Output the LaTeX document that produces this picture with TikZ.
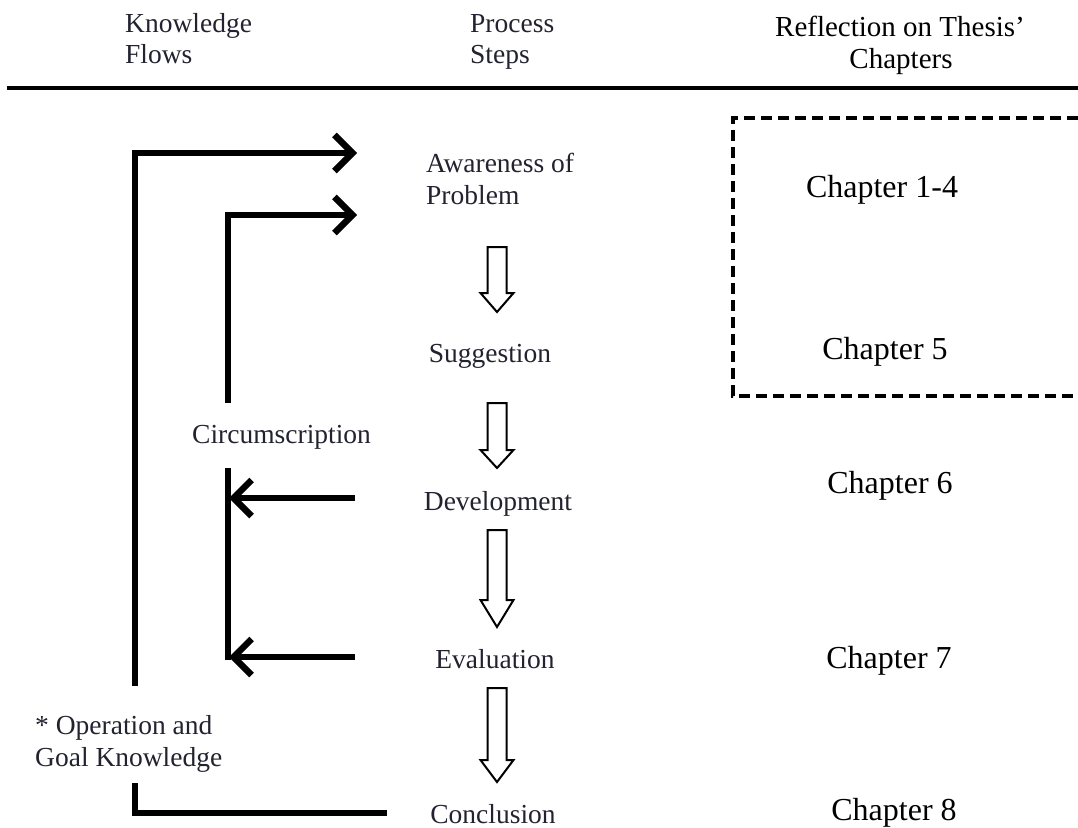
\documentclass[tikz,border=0pt]{standalone}
\usepackage{fontspec}
\setmainfont{Liberation Serif}
\usetikzlibrary{arrows.meta}
\definecolor{procink}{RGB}{34,34,48}

% hollow block arrow pointing down: top of shaft, start of head, tip
\newcommand{\stepdown}[4]{%
  \draw[hollow] (487.5,#2) -- (506.5,#2) -- (506.5,#3) -- (513.5,#3)
    -- (497,#4) coordinate (#1) -- (480.5,#3) -- (487.5,#3) -- cycle;}

\begin{document}
\begin{tikzpicture}[x=1pt,y=-1pt,
  proc/.style={inner sep=0pt, text=procink, font=\fontsize{27.5}{33}\selectfont},
  chap/.style={inner sep=0pt, font=\fontsize{32}{38}\selectfont},
  headtext/.style={inner sep=0pt, font=\fontsize{29}{35}\selectfont},
  flow/.style={line width=6.5pt, line join=miter},
  flowarrow/.style={flow, -{Straight Barb[length=18pt,width=36pt]}},
  hollow/.style={draw, line width=2pt, fill=white, line join=miter},
  frame/.style={line width=4pt, dash pattern=on 11pt off 6pt}]

\useasboundingbox (0,0) rectangle (1078,827);

% column headings
\node[proc, anchor=base west] (kf1) at (125,32) {Knowledge};
\node[proc, anchor=base west] (kf2) at (125,63) {Flows};
\node[proc, anchor=base west] (ps1) at (470,32) {Process};
\node[proc, anchor=base west] (ps2) at (470,63) {Steps};
\node[headtext, anchor=base] (rt1) at (900,36) {Reflection on Thesis’};
\node[headtext, anchor=base] (rt2) at (901,68) {Chapters};
\coordinate (ruleL) at (7,88);
\coordinate (ruleR) at (1078,88);
\draw[line width=3.5pt] (ruleL) -- (ruleR);

% process steps
\node[proc, anchor=base west] (aw1) at (426,172) {Awareness of};
\node[proc, anchor=base west] (aw2) at (426,204) {Problem};
\node[proc, anchor=base] (sug) at (490,362) {Suggestion};
\node[proc, anchor=base] (dev) at (498,510) {Development};
\node[proc, anchor=base] (eva) at (495,668) {Evaluation};
\node[proc, anchor=base] (con) at (493,823) {Conclusion};

\stepdown{s1}{247}{293}{312}
\stepdown{s2}{403}{450}{468}
\stepdown{s3}{530}{600}{627}
\stepdown{s4}{688}{760}{782}

% knowledge flow labels
\node[proc, anchor=base west] (circ) at (192,443) {Circumscription};
\node[proc, anchor=base west] (op1) at (35,734) {* Operation and};
\node[proc, anchor=base west] (op2) at (35,766) {Goal Knowledge};

% knowledge flow connectors
\coordinate (outerStart) at (135,686);
\coordinate (awIn1) at (357,153);
\coordinate (innerStart) at (228,403);
\coordinate (awIn2) at (357,215);
\coordinate (innerTop) at (228,468);
\coordinate (innerBot) at (228,660);
\coordinate (devOut) at (355,498);
\coordinate (devIn) at (229,498);
\coordinate (evaOut) at (355,657);
\coordinate (evaIn) at (229,657);
\coordinate (conStart) at (135,783);
\coordinate (conEnd) at (387,813);

\draw[flowarrow] (outerStart) |- (awIn1);
\draw[flowarrow] (innerStart) |- (awIn2);
\draw[flow] (innerTop) -- (innerBot);
\draw[flowarrow] (devOut) -- (devIn);
\draw[flowarrow] (evaOut) -- (evaIn);
\draw[flow] (conStart) |- (conEnd);

% thesis chapters
\node[chap, anchor=base] (c14) at (882,197) {Chapter 1-4};
\node[chap, anchor=base] (c5) at (885,359) {Chapter 5};
\node[chap, anchor=base] (c6) at (890,493) {Chapter 6};
\node[chap, anchor=base] (c7) at (889,668) {Chapter 7};
\node[chap, anchor=base] (c8) at (894,820) {Chapter 8};

\begin{scope}
  \clip (0,0) rectangle (1078,827);
  \coordinate (frTR) at (1095,118);
  \coordinate (frTL) at (733,118);
  \coordinate (frBL) at (733,396);
  \coordinate (frBR) at (1095,396);
  \draw[frame] (frTR) -- (frTL) -- (frBL) -- (frBR);
\end{scope}
\end{tikzpicture}
\end{document}
